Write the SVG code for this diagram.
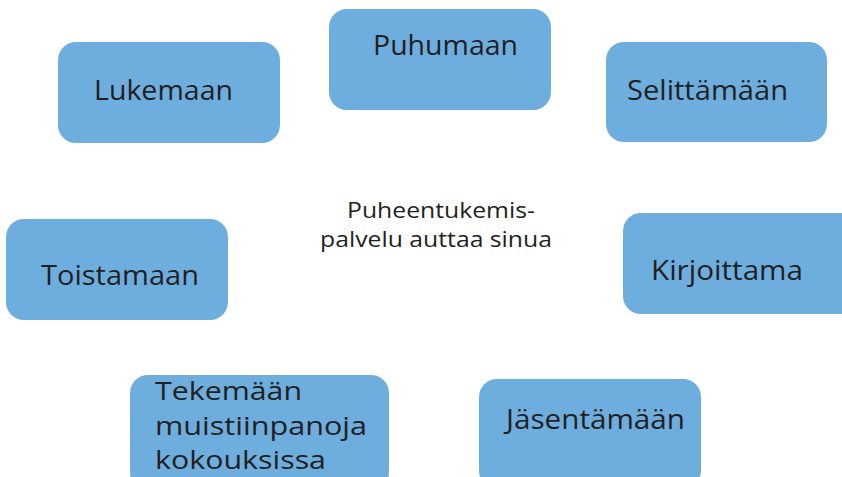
<svg xmlns="http://www.w3.org/2000/svg" width="842" height="477" viewBox="0 0 842 477">
<style>
.box{fill:#6daedf;}
.lbl{font-family:"Open Sans","Noto Sans","Liberation Sans",sans-serif;font-size:28px;fill:#231f20;}
.ml{font-size:26px;}
.ctr{font-family:"Open Sans","Noto Sans","Liberation Sans",sans-serif;font-size:22.5px;fill:#231f20;}
</style>
<rect width="842" height="477" fill="#ffffff"/>
<g id="center">
<text class="ctr" x="347" y="218" textLength="188" lengthAdjust="spacingAndGlyphs">Puheentukemis-</text>
<text class="ctr" x="320" y="247" textLength="232" lengthAdjust="spacingAndGlyphs">palvelu auttaa sinua</text>
</g>
<g id="connectors"></g>
<g id="puhumaan">
<rect class="box" x="329" y="9" width="222" height="101" rx="18"/>
<text class="lbl" x="373" y="55" textLength="145" lengthAdjust="spacingAndGlyphs">Puhumaan</text>
</g>
<g id="lukemaan">
<rect class="box" x="58" y="42" width="222" height="101" rx="18"/>
<text class="lbl" x="94" y="100" textLength="139" lengthAdjust="spacingAndGlyphs">Lukemaan</text>
</g>
<g id="selittamaan">
<rect class="box" x="606" y="42" width="221" height="100" rx="18"/>
<text class="lbl" x="627" y="100" textLength="161" lengthAdjust="spacingAndGlyphs">Selittämään</text>
</g>
<g id="toistamaan">
<rect class="box" x="6" y="219" width="222" height="101" rx="18"/>
<text class="lbl" x="41" y="285" textLength="158" lengthAdjust="spacingAndGlyphs">Toistamaan</text>
</g>
<g id="kirjoittama">
<rect class="box" x="623" y="213" width="235" height="101" rx="18"/>
<text class="lbl" x="651" y="280" textLength="152" lengthAdjust="spacingAndGlyphs">Kirjoittama</text>
</g>
<g id="tekemaan">
<rect class="box" x="130" y="375" width="259" height="115" rx="18"/>
<text class="lbl ml" x="155" y="400" textLength="147" lengthAdjust="spacingAndGlyphs">Tekemään</text>
<text class="lbl ml" x="155" y="435" textLength="212" lengthAdjust="spacingAndGlyphs">muistiinpanoja</text>
<text class="lbl ml" x="155" y="469" textLength="171" lengthAdjust="spacingAndGlyphs">kokouksissa</text>
</g>
<g id="jasentamaan">
<rect class="box" x="479" y="379" width="222" height="110" rx="18"/>
<text class="lbl" x="506" y="429" textLength="179" lengthAdjust="spacingAndGlyphs">Jäsentämään</text>
</g>
</svg>
